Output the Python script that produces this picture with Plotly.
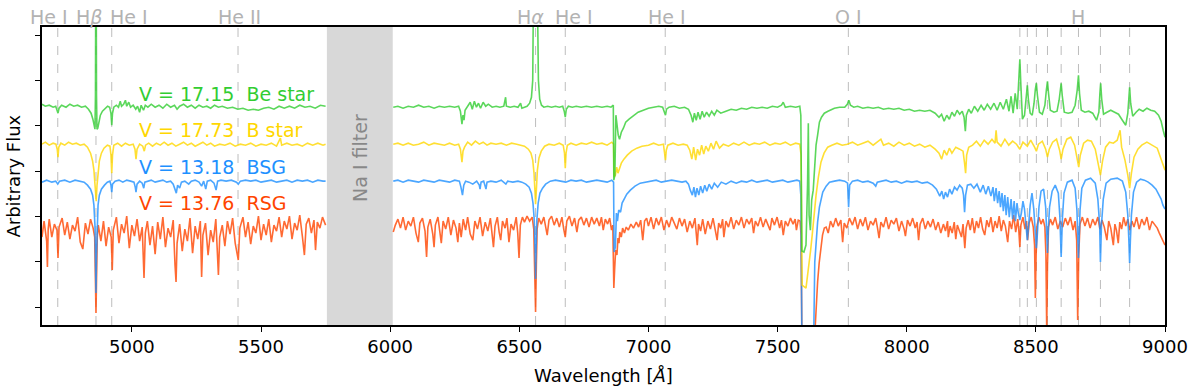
import plotly.graph_objects as go

FONT = "DejaVu Sans"

# (wavelength in Angstrom, arbitrary flux); None breaks the line at the Na I gap
BE_STAR = [
    (4652, 221), (4665, 219), (4680, 220), (4695, 218), (4705, 219), (4710, 216), (4714, 212), (4718, 217),
    (4728, 220), (4745, 218), (4760, 221), (4775, 219), (4790, 220), (4805, 218), (4820, 219), (4832, 216),
    (4842, 212), (4849, 206), (4854, 198), (4857, 196), (4859, 230), (4860, 330), (4861, 420), (4862, 330),
    (4863, 230), (4865, 196), (4868, 197), (4872, 204), (4878, 210), (4886, 214), (4896, 217), (4906, 219),
    (4914, 218), (4919, 212), (4922, 200), (4925, 212), (4930, 218), (4940, 220), (4948, 218), (4955, 224),
    (4960, 219), (4968, 221), (4975, 225), (4980, 219), (4988, 223), (4995, 218), (5005, 220), (5015, 216),
    (5022, 219), (5030, 213), (5036, 220), (5045, 215), (5052, 220), (5062, 218), (5075, 221), (5090, 218),
    (5105, 220), (5120, 217), (5135, 221), (5150, 218), (5165, 220), (5175, 216), (5185, 219), (5200, 221),
    (5215, 218), (5230, 220), (5245, 217), (5260, 220), (5275, 218), (5290, 219), (5305, 217), (5320, 220),
    (5335, 218), (5350, 219), (5370, 217), (5390, 218), (5410, 216), (5430, 217), (5450, 215), (5470, 216),
    (5490, 215), (5510, 217), (5530, 218), (5550, 216), (5570, 219), (5590, 217), (5610, 219), (5630, 217),
    (5650, 220), (5670, 218), (5690, 219), (5710, 217), (5730, 220), (5750, 219),
    (5880, None),
    (6012, 218), (6030, 219), (6050, 217), (6070, 219), (6090, 218), (6110, 220), (6130, 218), (6150, 219),
    (6170, 217), (6190, 219), (6210, 218), (6230, 219), (6250, 218), (6265, 219), (6272, 214), (6278, 201),
    (6282, 210), (6286, 205), (6290, 215), (6300, 219), (6310, 223), (6318, 216), (6326, 224), (6334, 218),
    (6342, 222), (6350, 217), (6360, 223), (6370, 219), (6380, 221), (6395, 218), (6410, 219), (6425, 218),
    (6440, 219), (6447, 228), (6450, 219), (6465, 218), (6480, 219), (6495, 218), (6505, 222), (6510, 217),
    (6520, 218), (6530, 219), (6540, 222), (6547, 228), (6552, 245), (6556, 290), (6559, 400), (6563, 600),
    (6567, 400), (6570, 290), (6574, 245), (6579, 226), (6586, 220), (6595, 218), (6610, 219), (6625, 218),
    (6640, 219), (6655, 218), (6668, 219), (6674, 214), (6678, 208), (6682, 216), (6690, 219), (6705, 218),
    (6720, 219), (6740, 218), (6760, 219), (6780, 218), (6800, 219), (6820, 218), (6840, 219), (6855, 218),
    (6864, 220), (6866, 145), (6870, 150), (6874, 210), (6878, 200), (6883, 190), (6888, 186), (6895, 193),
    (6903, 197), (6912, 203), (6925, 206), (6940, 209), (6960, 213), (6980, 215), (7000, 217), (7020, 218),
    (7040, 219), (7055, 218), (7062, 214), (7066, 210), (7070, 216), (7080, 218), (7100, 219), (7120, 217),
    (7140, 218), (7155, 216), (7165, 210), (7172, 203), (7178, 212), (7185, 205), (7192, 213), (7200, 206),
    (7208, 214), (7216, 208), (7225, 213), (7235, 209), (7245, 214), (7255, 210), (7265, 215), (7280, 212),
    (7300, 214), (7320, 216), (7340, 215), (7360, 217), (7380, 216), (7400, 218), (7420, 217), (7440, 218),
    (7460, 217), (7480, 219), (7500, 218), (7515, 220), (7522, 223), (7530, 218), (7550, 219), (7570, 218),
    (7586, 219), (7590, 210), (7594, 74), (7602, 73), (7610, 80), (7616, 140), (7619, 202), (7622, 110),
    (7627, 95), (7632, 125), (7638, 135), (7643, 160), (7649, 180), (7655, 190), (7662, 203), (7670, 208),
    (7681, 212), (7695, 214), (7720, 217), (7740, 218), (7760, 218), (7770, 221), (7776, 225), (7782, 220),
    (7795, 218), (7810, 219), (7830, 217), (7850, 218), (7870, 217), (7890, 218), (7910, 216), (7930, 217),
    (7950, 216), (7970, 217), (7990, 215), (8010, 216), (8030, 214), (8050, 215), (8070, 214), (8090, 215),
    (8110, 212), (8125, 208), (8135, 211), (8145, 204), (8155, 210), (8165, 206), (8175, 213), (8185, 209),
    (8195, 215), (8205, 211), (8215, 214), (8222, 208), (8227, 194), (8231, 210), (8240, 216), (8250, 212),
    (8262, 219), (8275, 214), (8288, 220), (8300, 215), (8312, 221), (8325, 216), (8338, 222), (8350, 215),
    (8362, 223), (8374, 216), (8386, 226), (8396, 214), (8404, 229), (8412, 212), (8420, 232), (8428, 216),
    (8434, 248), (8438, 266), (8442, 240), (8448, 206), (8456, 210), (8462, 228), (8467, 240), (8471, 226),
    (8478, 212), (8486, 210), (8493, 222), (8498, 236), (8502, 242), (8506, 230), (8514, 213), (8525, 211),
    (8535, 220), (8541, 236), (8545, 244), (8549, 232), (8556, 215), (8570, 213), (8582, 214), (8590, 225),
    (8595, 238), (8598, 242), (8602, 230), (8610, 213), (8625, 212), (8640, 213), (8652, 220), (8660, 235),
    (8665, 250), (8669, 232), (8676, 215), (8690, 213), (8705, 214), (8720, 212), (8735, 205), (8744, 213),
    (8748, 232), (8751, 242), (8755, 226), (8762, 211), (8775, 213), (8790, 215), (8805, 213), (8820, 211),
    (8835, 205), (8848, 200), (8856, 212), (8860, 230), (8863, 238), (8867, 222), (8875, 209), (8888, 213),
    (8900, 216), (8915, 214), (8930, 217), (8945, 215), (8960, 214), (8975, 210), (8985, 204), (8993, 195),
    (9000, 188),
]

B_STAR = [
    (4652, 181), (4665, 183), (4680, 180), (4695, 182), (4706, 181), (4711, 176), (4714, 168), (4717, 178),
    (4725, 182), (4740, 180), (4755, 183), (4770, 181), (4785, 182), (4800, 180), (4815, 181), (4828, 178),
    (4840, 172), (4848, 164), (4853, 155), (4857, 140), (4860, 126), (4862, 124), (4865, 140), (4869, 155),
    (4874, 164), (4882, 172), (4892, 177), (4905, 180), (4915, 179), (4919, 170), (4922, 152), (4925, 170),
    (4930, 180), (4945, 182), (4960, 179), (4975, 182), (4990, 180), (5005, 181), (5012, 176), (5016, 166),
    (5020, 176), (5030, 181), (5042, 179), (5048, 174), (5053, 180), (5065, 182), (5080, 179), (5095, 182),
    (5110, 180), (5125, 183), (5140, 180), (5155, 182), (5170, 179), (5185, 181), (5200, 183), (5215, 180),
    (5230, 182), (5245, 179), (5260, 181), (5275, 183), (5290, 180), (5305, 182), (5320, 179), (5340, 181),
    (5360, 180), (5380, 182), (5400, 179), (5420, 181), (5440, 180), (5460, 182), (5480, 179), (5500, 181),
    (5520, 180), (5540, 182), (5560, 179), (5575, 187), (5580, 180), (5600, 182), (5620, 180), (5640, 181),
    (5660, 179), (5680, 182), (5700, 180), (5720, 182), (5740, 180), (5750, 181),
    (5880, None),
    (6012, 181), (6030, 182), (6050, 180), (6070, 182), (6090, 180), (6110, 181), (6130, 183), (6150, 180),
    (6170, 182), (6190, 181), (6210, 180), (6230, 182), (6250, 180), (6265, 181), (6272, 176), (6278, 163),
    (6282, 174), (6288, 178), (6300, 183), (6315, 180), (6330, 184), (6345, 181), (6360, 183), (6375, 180),
    (6390, 182), (6410, 181), (6430, 182), (6450, 180), (6470, 182), (6490, 181), (6505, 180), (6520, 179),
    (6535, 176), (6545, 172), (6552, 165), (6557, 152), (6561, 132), (6563, 121), (6566, 135), (6570, 155),
    (6576, 167), (6585, 174), (6598, 179), (6615, 181), (6635, 180), (6655, 182), (6670, 180), (6675, 172),
    (6678, 157), (6681, 172), (6686, 180), (6700, 182), (6720, 180), (6740, 182), (6760, 181), (6780, 183),
    (6800, 181), (6820, 182), (6840, 180), (6858, 183), (6865, 181), (6867, 148), (6872, 150), (6877, 158),
    (6882, 152), (6888, 156), (6895, 162), (6905, 166), (6918, 170), (6935, 174), (6955, 177), (6975, 179),
    (7000, 180), (7020, 182), (7040, 180), (7058, 181), (7063, 173), (7066, 165), (7069, 175), (7075, 180),
    (7095, 182), (7115, 180), (7135, 181), (7150, 180), (7160, 175), (7168, 166), (7175, 178), (7183, 165),
    (7190, 176), (7198, 170), (7206, 180), (7214, 171), (7222, 179), (7232, 174), (7242, 182), (7252, 176),
    (7262, 184), (7275, 177), (7290, 181), (7310, 179), (7330, 182), (7350, 180), (7370, 183), (7390, 180),
    (7410, 182), (7430, 181), (7450, 183), (7470, 180), (7490, 182), (7510, 181), (7530, 183), (7550, 180),
    (7570, 182), (7586, 181), (7591, 170), (7595, 40), (7610, 37), (7622, 60), (7628, 75), (7634, 90),
    (7641, 110), (7649, 130), (7658, 148), (7668, 163), (7680, 172), (7694, 178), (7710, 180), (7730, 182),
    (7750, 180), (7770, 181), (7790, 183), (7810, 180), (7830, 182), (7850, 184), (7870, 180), (7885, 183),
    (7900, 186), (7910, 180), (7930, 182), (7950, 179), (7970, 183), (7990, 180), (8010, 182), (8030, 179),
    (8050, 181), (8070, 178), (8090, 180), (8110, 176), (8125, 172), (8135, 166), (8145, 175), (8155, 170),
    (8165, 177), (8175, 172), (8190, 178), (8205, 176), (8218, 174), (8224, 162), (8228, 152), (8232, 170),
    (8240, 178), (8255, 180), (8270, 184), (8285, 179), (8300, 185), (8315, 181), (8330, 186), (8342, 182),
    (8346, 195), (8350, 183), (8365, 179), (8380, 186), (8395, 180), (8410, 184), (8425, 181), (8438, 176),
    (8450, 183), (8467, 179), (8480, 185), (8495, 178), (8502, 174), (8510, 181), (8525, 184), (8538, 176),
    (8545, 168), (8552, 176), (8565, 183), (8580, 186), (8592, 175), (8598, 166), (8605, 176), (8620, 186),
    (8635, 188), (8650, 180), (8660, 168), (8666, 158), (8672, 170), (8685, 182), (8700, 185), (8715, 184),
    (8730, 176), (8742, 162), (8750, 150), (8758, 164), (8770, 178), (8785, 183), (8800, 182), (8815, 185),
    (8826, 195), (8832, 178), (8845, 165), (8856, 150), (8863, 137), (8870, 152), (8880, 168), (8895, 176),
    (8910, 180), (8930, 183), (8950, 180), (8970, 177), (8985, 166), (9000, 155),
]

BSG = [
    (4652, 143), (4670, 145), (4690, 143), (4705, 144), (4713, 141), (4720, 144), (4740, 145), (4760, 143),
    (4780, 145), (4800, 144), (4815, 143), (4828, 140), (4840, 136), (4848, 130), (4853, 120), (4857, 100),
    (4859, 70), (4861, 32), (4863, 70), (4865, 100), (4869, 120), (4874, 130), (4882, 136), (4894, 140),
    (4905, 143), (4915, 144), (4919, 140), (4922, 133), (4925, 141), (4935, 144), (4950, 145), (4965, 143),
    (4980, 145), (4995, 144), (5008, 143), (5013, 138), (5016, 133), (5020, 141), (5030, 144), (5040, 142),
    (5046, 137), (5050, 143), (5060, 144), (5075, 145), (5090, 143), (5105, 144), (5120, 145), (5135, 143),
    (5150, 144), (5160, 141), (5167, 135), (5172, 132), (5177, 140), (5185, 137), (5192, 143), (5205, 144),
    (5220, 141), (5230, 144), (5245, 145), (5260, 143), (5270, 139), (5278, 144), (5286, 136), (5292, 144),
    (5305, 145), (5318, 142), (5326, 135), (5332, 144), (5345, 145), (5365, 144), (5385, 145), (5405, 143),
    (5412, 141), (5420, 144), (5440, 145), (5460, 144), (5480, 145), (5500, 143), (5520, 144), (5540, 145),
    (5560, 143), (5580, 144), (5600, 145), (5620, 143), (5640, 145), (5660, 144), (5680, 145), (5700, 143),
    (5720, 145), (5740, 144), (5750, 144),
    (5880, None),
    (6012, 144), (6030, 145), (6050, 143), (6070, 145), (6090, 144), (6110, 143), (6130, 145), (6150, 144),
    (6170, 143), (6190, 145), (6210, 144), (6230, 143), (6250, 145), (6268, 144), (6274, 138), (6280, 130),
    (6285, 140), (6292, 144), (6305, 143), (6320, 141), (6335, 144), (6345, 140), (6348, 136), (6352, 143),
    (6362, 144), (6368, 139), (6371, 136), (6375, 143), (6390, 144), (6410, 143), (6430, 145), (6448, 141),
    (6455, 144), (6475, 143), (6495, 144), (6510, 143), (6525, 141), (6538, 138), (6547, 132), (6553, 122),
    (6558, 105), (6561, 75), (6563, 46), (6565, 75), (6568, 105), (6573, 122), (6580, 132), (6590, 137),
    (6602, 141), (6620, 144), (6640, 145), (6660, 144), (6680, 143), (6700, 145), (6720, 144), (6740, 145),
    (6760, 143), (6780, 144), (6800, 145), (6820, 144), (6840, 143), (6858, 145), (6865, 143), (6867, 73),
    (6872, 78), (6876, 112), (6880, 104), (6885, 115), (6892, 113), (6898, 122), (6906, 126), (6916, 131),
    (6930, 135), (6948, 139), (6968, 142), (6990, 143), (7010, 144), (7030, 145), (7050, 143), (7070, 144),
    (7090, 145), (7110, 144), (7130, 143), (7145, 144), (7155, 141), (7162, 135), (7170, 130), (7176, 138),
    (7182, 128), (7188, 137), (7195, 130), (7202, 139), (7210, 132), (7218, 140), (7226, 134), (7235, 141),
    (7245, 136), (7255, 142), (7268, 138), (7282, 143), (7300, 141), (7320, 144), (7340, 142), (7360, 144),
    (7380, 143), (7400, 145), (7420, 143), (7440, 144), (7460, 145), (7480, 143), (7500, 144), (7520, 145),
    (7540, 143), (7560, 144), (7575, 145), (7586, 144), (7590, 130), (7594, -10), (7640, -10), (7644, 63),
    (7650, 85), (7655, 103), (7662, 118), (7668, 126), (7675, 133), (7688, 139), (7701, 143), (7720, 144),
    (7740, 145), (7760, 144), (7771, 142), (7775, 118), (7779, 140), (7790, 144), (7810, 145), (7830, 143),
    (7850, 144), (7870, 142), (7880, 139), (7886, 143), (7900, 144), (7920, 145), (7940, 143), (7960, 144),
    (7980, 142), (8000, 144), (8020, 143), (8040, 144), (8060, 142), (8080, 143), (8100, 140), (8115, 136),
    (8128, 129), (8136, 134), (8143, 126), (8150, 133), (8158, 128), (8166, 136), (8175, 131), (8185, 138),
    (8195, 135), (8205, 140), (8215, 137), (8220, 130), (8224, 113), (8228, 130), (8235, 140), (8248, 141),
    (8260, 137), (8272, 141), (8285, 133), (8296, 140), (8306, 131), (8316, 139), (8326, 129), (8334, 138),
    (8339, 124), (8346, 137), (8352, 122), (8358, 134), (8363, 118), (8369, 132), (8374, 114), (8380, 130),
    (8385, 110), (8391, 128), (8397, 108), (8404, 126), (8410, 106), (8416, 124), (8421, 104), (8427, 122),
    (8432, 112), (8438, 105), (8444, 112), (8450, 124), (8456, 116), (8462, 100), (8467, 85), (8472, 100),
    (8478, 120), (8485, 132), (8492, 116), (8498, 92), (8502, 77), (8506, 92), (8512, 118), (8520, 134),
    (8530, 136), (8538, 118), (8542, 95), (8545, 72), (8548, 95), (8553, 118), (8563, 134), (8575, 140),
    (8587, 132), (8593, 108), (8598, 68), (8603, 108), (8609, 132), (8622, 143), (8640, 145), (8652, 137),
    (8659, 115), (8665, 67), (8671, 115), (8678, 137), (8692, 145), (8712, 147), (8730, 142), (8740, 126),
    (8747, 100), (8750, 63), (8754, 100), (8761, 126), (8772, 142), (8790, 146), (8815, 147), (8835, 144),
    (8848, 133), (8856, 110), (8860, 85), (8863, 62), (8866, 85), (8870, 110), (8878, 133), (8890, 143),
    (8905, 146), (8920, 145), (8935, 143), (8950, 140), (8965, 136), (8975, 131), (8985, 126), (8992, 120),
    (9000, 116),
]

RSG = [
    (4652, 88), (4660, 104), (4670, 84), (4673, 58), (4676, 96), (4680, 106), (4690, 88), (4700, 101),
    (4710, 95), (4714, 67), (4718, 98), (4730, 107), (4740, 90), (4750, 103), (4760, 86), (4770, 100),
    (4780, 94), (4790, 108), (4800, 83), (4810, 76), (4820, 102), (4830, 91), (4840, 106), (4850, 97),
    (4856, 88), (4858, 60), (4861, 12), (4864, 60), (4866, 88), (4870, 100), (4880, 84), (4890, 104),
    (4900, 79), (4910, 98), (4920, 88), (4924, 55), (4928, 95), (4940, 108), (4950, 82), (4960, 101),
    (4970, 92), (4980, 109), (4990, 77), (5000, 100), (5010, 89), (5020, 106), (5030, 84), (5040, 98),
    (5047, 47), (5052, 92), (5060, 104), (5070, 80), (5080, 99), (5090, 71), (5100, 103), (5110, 86),
    (5120, 108), (5130, 78), (5140, 97), (5150, 88), (5160, 105), (5167, 60), (5171, 43), (5175, 82),
    (5185, 101), (5195, 74), (5205, 96), (5215, 84), (5225, 107), (5235, 72), (5245, 99), (5255, 86),
    (5265, 104), (5270, 48), (5275, 90), (5285, 102), (5295, 70), (5305, 95), (5315, 83), (5325, 106),
    (5335, 50), (5340, 88), (5350, 100), (5360, 79), (5370, 104), (5380, 91), (5390, 107), (5400, 82),
    (5412, 65), (5418, 97), (5430, 108), (5440, 88), (5450, 103), (5460, 81), (5470, 99), (5480, 92),
    (5490, 109), (5500, 85), (5510, 101), (5520, 90), (5530, 106), (5540, 83), (5550, 100), (5560, 94),
    (5570, 108), (5580, 88), (5590, 104), (5600, 96), (5610, 109), (5620, 86), (5630, 102), (5640, 95),
    (5650, 110), (5660, 89), (5668, 70), (5675, 101), (5685, 107), (5695, 92), (5705, 105), (5711, 75),
    (5718, 103), (5728, 97), (5738, 108), (5750, 100),
    (5880, None),
    (6012, 93), (6020, 100), (6030, 106), (6040, 97), (6050, 108), (6060, 95), (6070, 104), (6080, 99),
    (6090, 108), (6100, 92), (6109, 83), (6115, 102), (6125, 107), (6135, 94), (6141, 68), (6146, 98),
    (6155, 106), (6165, 91), (6170, 78), (6175, 100), (6185, 108), (6193, 93), (6198, 82), (6205, 104),
    (6215, 96), (6225, 108), (6235, 90), (6245, 105), (6255, 97), (6262, 83), (6268, 102), (6275, 88),
    (6283, 106), (6292, 95), (6300, 108), (6310, 91), (6320, 85), (6328, 104), (6338, 96), (6348, 108),
    (6358, 89), (6368, 103), (6378, 94), (6388, 107), (6395, 91), (6400, 78), (6406, 99), (6415, 108),
    (6422, 93), (6428, 85), (6435, 104), (6445, 97), (6452, 107), (6460, 83), (6468, 101), (6478, 95),
    (6488, 108), (6494, 92), (6499, 67), (6504, 100), (6512, 108), (6520, 103), (6530, 109), (6540, 104),
    (6550, 108), (6556, 96), (6559, 60), (6563, 13), (6566, 60), (6569, 96), (6575, 107), (6585, 101),
    (6595, 108), (6602, 97), (6608, 90), (6615, 105), (6625, 109), (6635, 100), (6645, 107), (6655, 98),
    (6665, 108), (6672, 96), (6678, 88), (6684, 104), (6694, 109), (6704, 99), (6714, 107), (6723, 93),
    (6730, 105), (6740, 108), (6750, 100), (6760, 107), (6770, 98), (6780, 108), (6790, 101), (6800, 107),
    (6810, 99), (6818, 108), (6825, 95), (6833, 106), (6842, 101), (6850, 107), (6857, 95), (6862, 100),
    (6864, 80), (6866, 37), (6869, 55), (6873, 75), (6878, 70), (6882, 87), (6886, 82), (6889, 93),
    (6895, 88), (6900, 97), (6907, 92), (6914, 98), (6922, 95), (6932, 101), (6942, 97), (6953, 103),
    (6962, 98), (6970, 105), (6978, 85), (6985, 104), (6993, 107), (7000, 99), (7010, 108), (7020, 96),
    (7030, 107), (7040, 100), (7050, 108), (7060, 95), (7070, 105), (7080, 98), (7090, 108), (7100, 102),
    (7110, 96), (7120, 107), (7130, 99), (7140, 106), (7150, 93), (7160, 104), (7170, 97), (7180, 107),
    (7185, 90), (7189, 80), (7194, 101), (7202, 94), (7210, 106), (7220, 91), (7230, 104), (7240, 96),
    (7250, 107), (7258, 94), (7266, 85), (7272, 102), (7280, 97), (7287, 106), (7292, 88), (7300, 104),
    (7310, 98), (7320, 108), (7330, 96), (7340, 105), (7350, 100), (7360, 108), (7370, 97), (7380, 106),
    (7390, 101), (7400, 107), (7407, 92), (7414, 104), (7424, 99), (7434, 108), (7444, 98), (7454, 106),
    (7463, 101), (7471, 95), (7478, 107), (7488, 100), (7498, 108), (7508, 97), (7515, 105), (7522, 90),
    (7530, 104), (7540, 99), (7550, 107), (7560, 101), (7568, 106), (7573, 95), (7580, 105), (7587, 104),
    (7591, 90), (7594, -10), (7644, -10), (7650, 25), (7655, 43), (7661, 62), (7668, 80), (7674, 90),
    (7681, 97), (7688, 98), (7696, 92), (7705, 104), (7715, 98), (7725, 107), (7735, 99), (7745, 105),
    (7752, 83), (7758, 102), (7768, 97), (7778, 107), (7790, 100), (7800, 108), (7810, 96), (7820, 106),
    (7830, 99), (7840, 108), (7850, 95), (7860, 104), (7870, 100), (7880, 107), (7887, 97), (7893, 87),
    (7900, 103), (7910, 98), (7920, 108), (7930, 96), (7940, 105), (7950, 101), (7960, 107), (7970, 94),
    (7980, 104), (7990, 96), (7995, 89), (8003, 105), (8013, 99), (8023, 107), (8033, 97), (8040, 103),
    (8046, 85), (8052, 101), (8062, 107), (8072, 96), (8082, 104), (8092, 98), (8102, 106), (8112, 95),
    (8122, 103), (8132, 92), (8142, 101), (8150, 94), (8158, 104), (8161, 88), (8168, 99), (8176, 92),
    (8184, 103), (8190, 86), (8196, 100), (8204, 94), (8212, 88), (8218, 101), (8225, 77), (8230, 97),
    (8238, 105), (8246, 95), (8254, 107), (8262, 92), (8270, 104), (8278, 97), (8286, 108), (8294, 96),
    (8302, 90), (8310, 105), (8318, 98), (8326, 108), (8334, 93), (8342, 104), (8350, 97), (8358, 109),
    (8366, 94), (8374, 105), (8382, 99), (8391, 83), (8398, 104), (8406, 96), (8414, 110), (8422, 93),
    (8430, 106), (8434, 95), (8438, 78), (8442, 100), (8450, 108), (8458, 96), (8464, 104), (8468, 85),
    (8474, 102), (8482, 108), (8490, 98), (8495, 80), (8498, 27), (8501, 70), (8505, 100), (8512, 108),
    (8520, 101), (8528, 106), (8535, 98), (8539, 70), (8542, -5), (8545, 60), (8549, 98), (8556, 106),
    (8565, 100), (8575, 108), (8585, 96), (8595, 104), (8604, 98), (8614, 107), (8624, 100), (8634, 108),
    (8644, 95), (8652, 104), (8658, 85), (8662, 5), (8666, 70), (8671, 101), (8680, 108), (8690, 99),
    (8700, 107), (8710, 97), (8720, 106), (8730, 100), (8740, 108), (8748, 96), (8756, 105), (8765, 98),
    (8775, 85), (8782, 104), (8790, 97), (8800, 80), (8806, 101), (8812, 95), (8819, 82), (8825, 103),
    (8832, 96), (8840, 108), (8848, 99), (8856, 106), (8864, 95), (8872, 104), (8880, 98), (8890, 108),
    (8900, 96), (8910, 106), (8920, 100), (8930, 108), (8940, 95), (8950, 104), (8960, 100), (8970, 97),
    (8978, 92), (8985, 88), (8993, 84), (9000, 80),
]

# drawn bottom to top: RSG, BSG, B star, Be star
SPECTRA = [
    ("RSG", RSG, "rgba(255, 69, 0, 0.8)"),
    ("BSG", BSG, "rgba(30, 144, 255, 0.8)"),
    ("B star", B_STAR, "rgba(255, 215, 0, 0.8)"),
    ("Be star", BE_STAR, "rgba(50, 205, 50, 0.8)"),
]

STAR_LABELS = ["V = 17.15\u00a0 Be star", "V = 17.73\u00a0 B star", "V = 13.18\u00a0 BSG", "V = 13.76\u00a0 RSG"]
STAR_LABEL_FLUX = [231, 195, 158, 122]
STAR_LABEL_COLORS = ["#32cd32", "#ffd700", "#1e90ff", "#ff4500"]

LINE_WAVES = [4713, 4861, 4922, 5411, 6563, 6678, 7065, 7774,
              8438, 8467, 8502, 8545, 8598, 8665, 8750, 8863]
LINE_NAMES = ["He I", "H<i>β</i>", "He I", "He II", "H<i>α</i>", "He I", "He I", "O I", "H"]
LINE_NAME_WAVES = [4679, 4833, 4990, 5416, 6545, 6710, 7071, 7775, 8665]

FILTER_BAND = (5755, 6010)
X_TICKS = [5000, 5500, 6000, 6500, 7000, 7500, 8000, 8500, 9000]
Y_TICKS = [17.7, 63.1, 108.5, 153.9, 199.3, 244.7, 290.1]

fig = go.Figure()

for name, spec, color in SPECTRA:
    fig.add_trace(go.Scatter(
        x=[p[0] for p in spec], y=[p[1] for p in spec], name=name,
        mode="lines", line=dict(color=color, width=1.6), connectgaps=False,
    ))

fig.add_vrect(x0=FILTER_BAND[0], x1=FILTER_BAND[1], fillcolor="#d8d8d8",
              line_width=0, layer="below")

for w in LINE_WAVES:
    fig.add_vline(x=w, line=dict(color="#bdbdbd", width=1, dash="dash"), layer="below")

for text, w in zip(LINE_NAMES, LINE_NAME_WAVES):
    fig.add_annotation(x=w, y=1, xref="x", yref="paper", text=text, showarrow=False,
                       yanchor="bottom", yshift=-3, font=dict(family=FONT, size=19, color="#b3b3b3"))

for text, h, color in zip(STAR_LABELS, STAR_LABEL_FLUX, STAR_LABEL_COLORS):
    fig.add_annotation(x=5021, y=h, text=text, showarrow=False, xanchor="left",
                       yanchor="middle", font=dict(family=FONT, size=19, color=color))

fig.add_annotation(x=sum(FILTER_BAND) / 2, y=167, text="Na I filter", showarrow=False,
                   textangle=-90, font=dict(family=FONT, size=19, color="#888888"))

fig.add_annotation(x=0.5, y=-0.171, xref="paper", yref="paper", text="Wavelength [<i>Å</i>]",
                   showarrow=False, yanchor="middle", font=dict(family=FONT, size=18, color="black"))
fig.add_annotation(x=-0.0262, y=0.5, xref="paper", yref="paper", text="Arbitrary Flux",
                   showarrow=False, textangle=-90, xanchor="center",
                   font=dict(family=FONT, size=18, color="black"))

fig.update_layout(
    width=1200, height=391,
    margin=dict(l=42, r=25, t=27, b=66),
    paper_bgcolor="white", plot_bgcolor="white",
    showlegend=False, hovermode=False,
    font=dict(family=FONT, size=18, color="black"),
)
fig.update_xaxes(range=[4652, 9000], tickvals=X_TICKS, ticks="outside", ticklen=5, tickwidth=1.3,
                 tickcolor="black", showline=True, linecolor="black", linewidth=1.5, mirror=True,
                 showgrid=False, zeroline=False, tickfont=dict(family=FONT, size=18))
fig.update_yaxes(range=[0, 298.3], tickvals=Y_TICKS, showticklabels=False, ticks="outside",
                 ticklen=5, tickwidth=1.3, tickcolor="black", showline=True, linecolor="black",
                 linewidth=1.5, mirror=True, showgrid=False, zeroline=False)

# drop the default page margin so the figure fills the window from its top-left corner
fig.write_html("out.html", config={"displayModeBar": False},
               post_script="document.body.style.margin = '0px';")
